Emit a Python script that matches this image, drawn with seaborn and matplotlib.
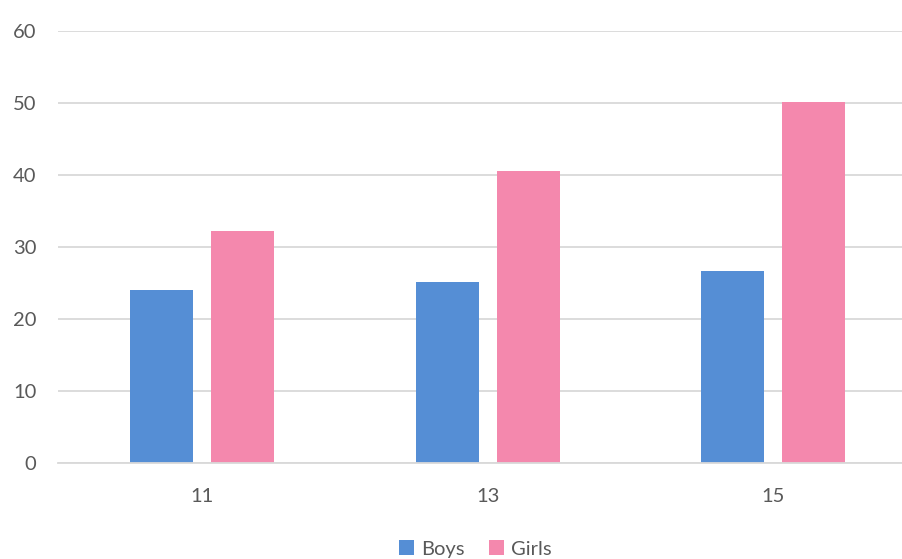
import matplotlib
matplotlib.use("Agg")
import matplotlib.pyplot as plt
import seaborn as sns
import pandas as pd

ages = ["11", "13", "15"]
boys = [24.0, 25.2, 26.6]
girls = [32.2, 40.6, 50.2]
series = ["Boys", "Girls"]
y_ticks = [0, 10, 20, 30, 40, 50, 60]

df = pd.DataFrame({
    "age": ages * 2,
    "value": boys + girls,
    "group": [series[0]] * len(ages) + [series[1]] * len(ages),
})

sns.set_theme(style="white")
plt.rcParams["font.family"] = ["Lato", "DejaVu Sans"]

text_color = "#595959"
grid_color = "#D9D9D9"
palette = {"Boys": "#558ED5", "Girls": "#F488AD"}

fig = plt.figure(figsize=(9.03, 5.59), dpi=100)
ax = fig.add_axes([58 / 903, 1 - 463 / 559, 1 - 58 / 903, (463 - 31) / 559])

sns.barplot(data=df, x="age", y="value", hue="group", order=ages,
            hue_order=series, palette=palette, width=0.567, gap=0.222,
            saturation=1, edgecolor="none", linewidth=0, ax=ax, legend=True)

ax.set_ylim(0, 60)
ax.set_xlim(-0.504, 2.454)
ax.set_yticks(y_ticks)
ax.yaxis.grid(True, color=grid_color, linewidth=1.3)
ax.set_axisbelow(True)
for side in ["top", "right", "left"]:
    ax.spines[side].set_visible(False)
ax.spines["bottom"].set_color(grid_color)
ax.spines["bottom"].set_linewidth(1.3)
ax.set_xlabel("")
ax.set_ylabel("")
ax.tick_params(axis="both", length=0, labelsize=14.5, labelcolor=text_color)
ax.tick_params(axis="y", pad=15.5)
ax.tick_params(axis="x", pad=18)

handles, labels = ax.get_legend_handles_labels()
ax.legend_.remove()
fig.legend(handles, labels, loc="center", bbox_to_anchor=(475 / 903, 1 - 549 / 559),
           ncol=2, frameon=False, fontsize=14.5, labelcolor=text_color,
           handlelength=0.75, handleheight=0.75, handletextpad=0.35,
           columnspacing=1.2)

fig.savefig("out.png", dpi=100)
